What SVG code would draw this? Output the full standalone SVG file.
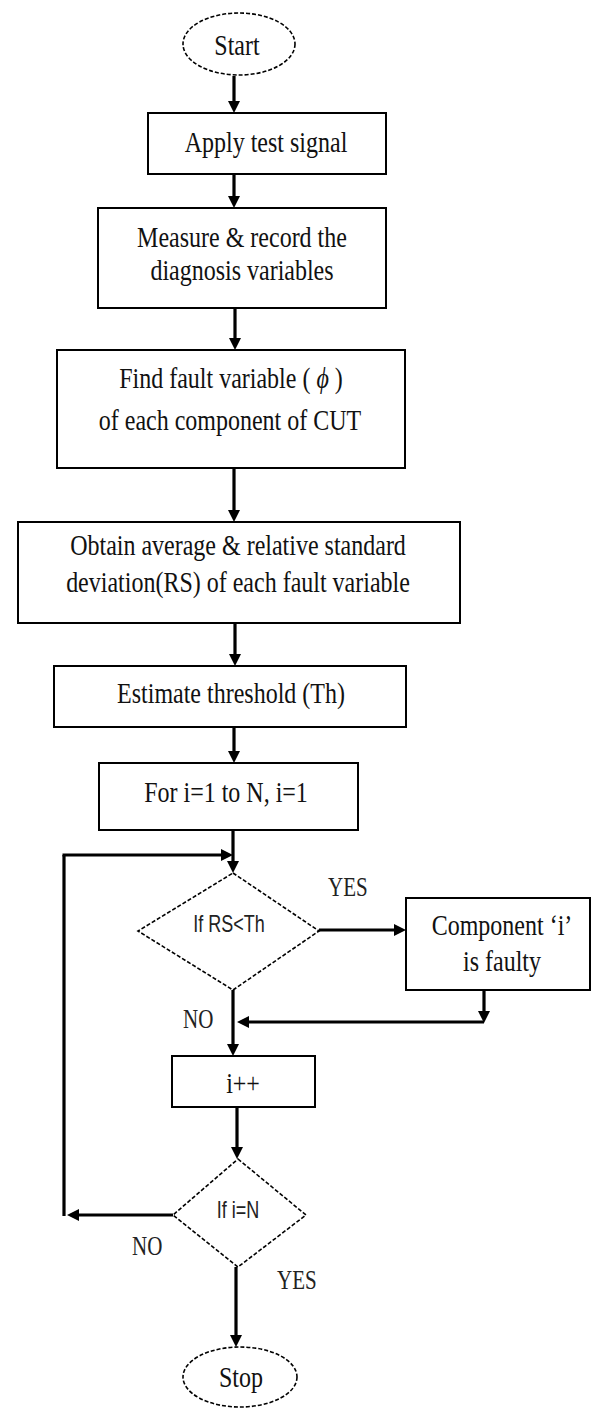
<svg xmlns="http://www.w3.org/2000/svg" width="608" height="1410" viewBox="0 0 608 1410">
<style>
.box{fill:#fff;stroke:#000;stroke-width:2}
.term{fill:#fff;stroke:#000;stroke-width:1.6;stroke-dasharray:4 2}
.t{font-family:"Liberation Serif","Times New Roman",serif;font-size:24px;fill:#111;text-anchor:middle}
.ts{font-family:"Liberation Sans",Arial,sans-serif;font-size:18px;fill:#222;text-anchor:middle}
.lbl{font-family:"Liberation Serif","Times New Roman",serif;font-size:21px;fill:#222}
.c{fill:none;stroke:#000;stroke-width:3.2}
.ca{fill:none;stroke:#000;stroke-width:3.2;marker-end:url(#ah)}
</style>
<defs>
<marker id="ah" markerUnits="userSpaceOnUse" markerWidth="14" markerHeight="12" refX="8" refY="6" orient="auto">
<path d="M0,0 L12,6 L0,12 z" fill="#000"/>
</marker>
</defs>
<rect width="608" height="1410" fill="#fff"/>

<g id="connectors">
<path class="ca" d="M234,76 V109"/>
<path class="ca" d="M234,174 V204"/>
<path class="ca" d="M235,308 V346"/>
<path class="ca" d="M234,468 V518"/>
<path class="ca" d="M235,623 V662"/>
<path class="ca" d="M234,727 V759"/>
<path class="ca" d="M233,830 V869"/>
<path class="ca" d="M319,930 H402"/>
<path class="ca" d="M233,990 V1052"/>
<path class="ca" d="M484,990 V1019"/>
<path class="ca" d="M484,1022 H241"/>
<path class="ca" d="M237,1107 V1155"/>
<path class="ca" d="M173,1215 H71"/>
<path class="c" d="M64,1216 V855"/>
<path class="ca" d="M62.5,855 H229"/>
<path class="ca" d="M236,1267 V1343"/>
</g>

<g id="start">
<ellipse class="term" cx="239" cy="44" rx="56" ry="31"/>
<text class="t" transform="translate(237,55) scale(1,1.25)">Start</text>
</g>

<g id="apply">
<rect class="box" x="148" y="113" width="238" height="61"/>
<text class="t" transform="translate(266,152) scale(1,1.25)">Apply test signal</text>
</g>

<g id="measure">
<rect class="box" x="98" y="208" width="288" height="100"/>
<text class="t" transform="translate(242,247) scale(1,1.25)">Measure &amp; record the</text>
<text class="t" transform="translate(242,280) scale(1,1.25)">diagnosis variables</text>
</g>

<g id="find">
<rect class="box" x="57" y="350" width="348" height="118"/>
<text class="t" transform="translate(231,388) scale(1,1.25)">Find fault variable ( <tspan font-style="italic">ϕ</tspan> )</text>
<text class="t" transform="translate(230,430) scale(1,1.25)">of each component of CUT</text>
</g>

<g id="obtain">
<rect class="box" x="18" y="522" width="442" height="101"/>
<text class="t" transform="translate(238,555) scale(1,1.25)">Obtain average &amp; relative standard</text>
<text class="t" transform="translate(238,592) scale(1,1.25)">deviation(RS) of each fault variable</text>
</g>

<g id="estimate">
<rect class="box" x="54" y="666" width="352" height="61"/>
<text class="t" transform="translate(231,703) scale(1,1.25)">Estimate threshold (Th)</text>
</g>

<g id="forloop">
<rect class="box" x="99" y="763" width="259" height="67"/>
<text class="t" transform="translate(226,802) scale(1,1.25)">For i=1 to N, i=1</text>
</g>

<g id="check-rs">
<polygon class="term" points="233,873 319,931 233,990 138,931"/>
<text class="ts" transform="translate(229,932) scale(1,1.3)">If RS&lt;Th</text>
</g>

<g id="component">
<rect class="box" x="406" y="898" width="184" height="92"/>
<text class="t" transform="translate(502,935) scale(1,1.25)">Component ‘i’</text>
<text class="t" transform="translate(502,971) scale(1,1.25)">is faulty</text>
</g>

<g id="increment">
<rect class="box" x="172" y="1056" width="143" height="51"/>
<text class="t" transform="translate(243,1093) scale(1,1.25)">i++</text>
</g>

<g id="check-n">
<polygon class="term" points="238,1159 306,1215 238,1267 173,1215"/>
<text class="ts" transform="translate(238,1218) scale(1,1.3)">If i=N</text>
</g>

<g id="stop">
<ellipse class="term" cx="240" cy="1377" rx="57" ry="30"/>
<text class="t" transform="translate(241,1387) scale(1,1.25)">Stop</text>
</g>

<g id="labels">
<text class="lbl" transform="translate(328,896) scale(1,1.28)">YES</text>
<text class="lbl" transform="translate(183,1028) scale(1,1.28)">NO</text>
<text class="lbl" transform="translate(132,1255) scale(1,1.28)">NO</text>
<text class="lbl" transform="translate(277,1289) scale(1,1.28)">YES</text>
</g>
</svg>
